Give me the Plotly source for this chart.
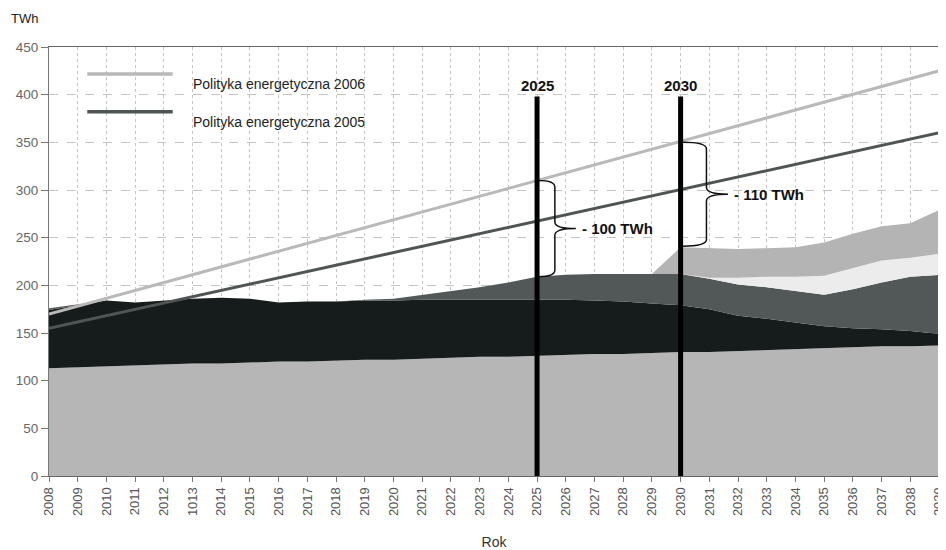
import plotly.graph_objects as go

years = [2008, 2009, 2010, 2011, 2012, 2013, 2014, 2015, 2016, 2017, 2018, 2019,
         2020, 2021, 2022, 2023, 2024, 2025, 2026, 2027, 2028, 2029, 2030, 2031,
         2032, 2033, 2034, 2035, 2036, 2037, 2038, 2039]
tick_labels = ["2008", "2009", "2010", "2011", "2012", "1013", "2014", "2015", "2016",
               "2017", "2018", "2019", "2020", "2021", "2022", "2023", "2024", "2025",
               "2026", "2027", "2028", "2029", "2030", "2031", "2032", "2033", "2034",
               "2035", "2036", "2037", "2038", "2039"]

layer1 = [113, 114, 115, 116, 117, 118, 118, 119, 120, 120, 121, 122, 122, 123, 124, 125,
          125, 126, 127, 128, 128, 129, 130, 130, 131, 132, 133, 134, 135, 136, 136, 137]
layer2 = [61, 65, 69, 66, 67, 68, 69, 67, 62, 63, 62, 62, 62, 62, 61, 60,
          60, 59, 58, 56, 55, 52, 49, 45, 37, 33, 28, 23, 20, 18, 16, 12]
layer3 = [2, 1, 0, 0, 0, 0, 0, 0, 0, 0, 0, 1, 2, 5, 9, 13,
          18, 24, 26, 28, 29, 31, 33, 32, 33, 33, 33, 33, 41, 49, 57, 62]
layer4 = [0, 0, 0, 0, 0, 0, 0, 0, 0, 0, 0, 0, 0, 0, 0, 0,
          0, 0, 0, 0, 0, 0, 0, 1, 7, 11, 15, 20, 22, 23, 20, 22]
layer5 = [0, 0, 0, 0, 0, 0, 0, 0, 0, 0, 0, 0, 0, 0, 0, 0,
          0, 0, 0, 0, 0, 0, 28, 31, 30, 30, 31, 35, 36, 36, 36, 46]

line_x = [2008, 2039]
policy_2006 = [170, 425]
policy_2005 = [155, 360]

marker_years = [2025, 2030]
marker_top = 398
gap_labels = ["- 100 TWh", "- 110 TWh"]
gap_top = [310, 350]
gap_bottom = [209, 241]

FONT = "Liberation Sans, Arial, sans-serif"

fig = go.Figure()
layer_colors = ["#b6b6b6", "#161b1b", "#525757", "#ececec", "#b4b4b4"]
for vals, col in zip([layer1, layer2, layer3, layer4, layer5], layer_colors):
    fig.add_trace(go.Scatter(x=years, y=vals, stackgroup="s", mode="lines",
                             line=dict(width=0, color=col), fillcolor=col,
                             showlegend=False, hoverinfo="skip"))

fig.add_trace(go.Scatter(x=line_x, y=policy_2006, mode="lines",
                         line=dict(color="#b9b9b9", width=3), showlegend=False))
fig.add_trace(go.Scatter(x=line_x, y=policy_2005, mode="lines",
                         line=dict(color="#4f5454", width=3), showlegend=False))

shapes = []
annotations = []
# vertical markers
for yr in marker_years:
    shapes.append(dict(type="line", xref="x", yref="y", x0=yr, x1=yr, y0=0, y1=marker_top,
                       line=dict(color="#000000", width=5)))
    annotations.append(dict(x=yr, y=marker_top, xref="x", yref="y", text="<b>%d</b>" % yr,
                            showarrow=False, yanchor="bottom", yshift=1,
                            font=dict(family=FONT, size=15, color="#111111")))

# braces
brace_geom = [(0.05, 0.62, 1.35), (0.08, 0.9, 1.65)]
for yr, top, bot, lab, (x0o, xvo, xto) in zip(marker_years, gap_top, gap_bottom, gap_labels, brace_geom):
    x0 = yr + x0o
    xv = yr + xvo
    xt = yr + xto
    mid = (top + bot) / 2
    r = 7
    path = (f"M{x0},{top} Q{xv},{top} {xv},{top - r} L{xv},{mid + r} "
            f"Q{xv},{mid} {xt},{mid} Q{xv},{mid} {xv},{mid - r} "
            f"L{xv},{bot + r} Q{xv},{bot} {x0},{bot}")
    shapes.append(dict(type="path", xref="x", yref="y", path=path,
                       line=dict(color="#111111", width=1.5)))
    annotations.append(dict(x=xt, y=mid, xref="x", yref="y", text="<b>%s</b>" % lab,
                            showarrow=False, xanchor="left", xshift=4,
                            font=dict(family=FONT, size=15, color="#111111")))

# manual legend
legend_items = [("Polityka energetyczna 2006", "#b9b9b9", 0.937),
                ("Polityka energetyczna 2005", "#4f5454", 0.849)]
for name, col, yp in legend_items:
    shapes.append(dict(type="line", xref="paper", yref="paper", x0=0.043, x1=0.139,
                       y0=yp, y1=yp, line=dict(color=col, width=3.5)))
    annotations.append(dict(x=0.160, y=yp, xref="paper", yref="paper", text=name,
                            showarrow=False, xanchor="left",
                            font=dict(family=FONT, size=14, color="#222222")))

# axis unit
annotations.append(dict(x=0, y=1, xref="paper", yref="paper", text="TWh", showarrow=False,
                        xanchor="left", yanchor="bottom", xshift=-40, yshift=19,
                        font=dict(family=FONT, size=13, color="#222222")))

# page body has an 8px margin, so the figure is sized and offset to compensate
fig.update_layout(
    width=938, height=542,
    margin=dict(l=41, r=7, t=39, b=74),
    paper_bgcolor="white", plot_bgcolor="white",
    font=dict(family=FONT, size=12, color="#555555"),
    shapes=shapes, annotations=annotations,
    showlegend=False,
    xaxis=dict(range=[2008, 2039], tickmode="array", tickvals=years, ticktext=tick_labels,
               tickangle=-90, showgrid=True, gridcolor="#c4c4c4", griddash="dot",
               showline=True, linecolor="#666666", linewidth=1, mirror=True,
               ticks="outside", ticklen=5, tickcolor="#777777",
               ticklabeloverflow="allow", automargin=False,
               tickfont=dict(family=FONT, size=13, color="#555555"),
               title=dict(text="Rok", font=dict(family=FONT, size=14, color="#333333"),
                          standoff=22),
               zeroline=False),
    yaxis=dict(range=[0, 450], tickvals=[0, 50, 100, 150, 200, 250, 300, 350, 400, 450],
               showgrid=True, gridcolor="#c4c4c4", griddash="dash",
               showline=True, linecolor="#777777", linewidth=1,
               ticks="outside", ticklen=7, tickcolor="#777777", automargin=False,
               tickfont=dict(family=FONT, size=13.5, color="#666666"),
               zeroline=False),
)

fig.write_html("out.html")
